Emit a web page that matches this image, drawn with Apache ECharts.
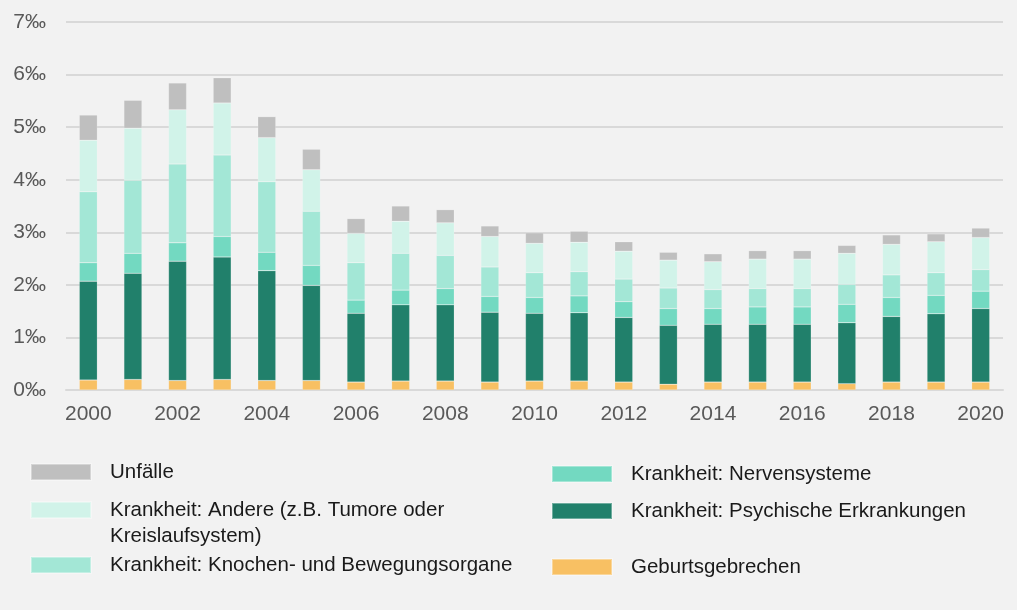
<!DOCTYPE html>
<html>
<head>
<meta charset="utf-8">
<title>Renten Ursachen</title>
<script src="https://cdn.jsdelivr.net/npm/echarts@6/dist/echarts.min.js"></script>
<style>
  html, body { margin: 0; padding: 0; background: #f2f2f2; }
  #main { width: 1017px; height: 610px; }
</style>
</head>
<body>
<div id="main"></div>
<script>
// Daten (Promille)
var years = ['2000','2001','2002','2003','2004','2005','2006','2007','2008','2009','2010',
             '2011','2012','2013','2014','2015','2016','2017','2018','2019','2020'];
var geburt   = [0.19,0.20,0.18,0.20,0.18,0.18,0.15,0.17,0.17,0.15,0.17,0.17,0.15,0.11,0.15,0.15,0.15,0.12,0.15,0.15,0.15];
var psych    = [1.88,2.02,2.27,2.33,2.09,1.81,1.31,1.45,1.45,1.33,1.29,1.30,1.23,1.12,1.10,1.10,1.10,1.16,1.25,1.30,1.40];
var nerven   = [0.35,0.38,0.35,0.39,0.35,0.38,0.25,0.28,0.31,0.30,0.30,0.32,0.30,0.32,0.30,0.33,0.33,0.35,0.36,0.35,0.33];
var knochen  = [1.35,1.39,1.50,1.55,1.34,1.03,0.71,0.70,0.63,0.56,0.47,0.46,0.43,0.39,0.36,0.35,0.35,0.38,0.43,0.43,0.41];
var andere   = [0.98,0.99,1.03,0.99,0.84,0.79,0.56,0.61,0.62,0.58,0.56,0.56,0.53,0.53,0.53,0.56,0.56,0.59,0.58,0.59,0.61];
var unfaelle = [0.48,0.53,0.51,0.48,0.40,0.39,0.28,0.29,0.25,0.20,0.20,0.21,0.18,0.15,0.15,0.16,0.16,0.15,0.18,0.15,0.18];

var names = {
    unf: 'Unfälle',
    and: 'Krankheit: Andere (z.B. Tumore oder Kreislaufsystem)',
    kno: 'Krankheit: Knochen- und Bewegungsorgane',
    ner: 'Krankheit: Nervensysteme',
    psy: 'Krankheit: Psychische Erkrankungen',
    geb: 'Geburtsgebrechen'
};

var font = 'Liberation Sans, Arial, sans-serif';

function bar(name, data, color) {
    return {
        name: name,
        type: 'bar',
        stack: 'total',
        barWidth: 18,
        data: data,
        itemStyle: { color: color, borderColor: 'rgba(255,255,255,0.35)', borderWidth: 0.5 }
    };
}

// eine Legende pro Eintrag, damit die zwei Spalten frei stehen
function legend(name, left, top, fmt) {
    var l = {
        data: [name],
        left: left,
        top: top,
        padding: 0,
        icon: 'rect',
        itemWidth: 60,
        itemHeight: 16,
        selectedMode: false,
        textStyle: { fontFamily: font, fontSize: 20.5, color: '#1a1a1a', lineHeight: 26, padding: [0, 0, 0, 14] }
    };
    if (fmt) l.formatter = fmt;
    return l;
}

var myChart = echarts.init(document.getElementById('main'));
var option = {
    backgroundColor: '#f2f2f2',
    animation: false,
    grid: { left: 66, right: 14, top: 22, bottom: 220, containLabel: false },
    legend: [
        legend(names.unf, 30, 459),
        // leere erste Zeile, damit die erste Textzeile neben dem Kästchen steht
        legend(names.and, 30, 471, function () { return ' \nKrankheit: Andere (z.B. Tumore oder\nKreislaufsystem)'; }),
        legend(names.kno, 30, 552),
        legend(names.ner, 551, 461),
        legend(names.psy, 551, 498),
        legend(names.geb, 551, 554)
    ],
    xAxis: {
        type: 'category',
        data: years,
        axisTick: { show: false },
        axisLine: { lineStyle: { color: '#d9d9d9', width: 2 } },
        axisLabel: { interval: 1, margin: 14, fontFamily: font, fontSize: 21, color: '#595959' }
    },
    yAxis: {
        type: 'value',
        min: 0,
        max: 7,
        interval: 1,
        axisLine: { show: false },
        axisTick: { show: false },
        splitLine: { lineStyle: { color: '#d9d9d9', width: 2 } },
        axisLabel: { margin: 20, fontFamily: font, fontSize: 21, color: '#595959', formatter: '{value}‰' }
    },
    series: [
        bar(names.geb, geburt, '#f8c063'),
        bar(names.psy, psych, '#21806b'),
        bar(names.ner, nerven, '#73d9c1'),
        bar(names.kno, knochen, '#a3e7d6'),
        bar(names.and, andere, '#d1f3e9'),
        bar(names.unf, unfaelle, '#bfbfbf')
    ]
};
myChart.setOption(option);
</script>
</body>
</html>
